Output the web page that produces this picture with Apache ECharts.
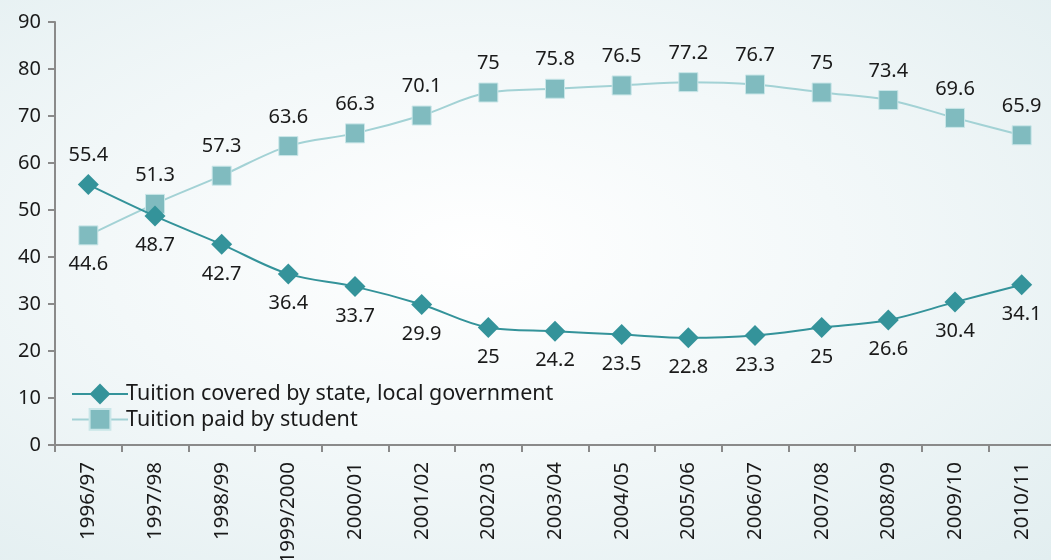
<!DOCTYPE html>
<html><head><meta charset="utf-8">
<script src="https://cdn.jsdelivr.net/npm/echarts@6/dist/echarts.min.js"></script>
<style>html,body{margin:0;padding:0;}#c{width:1051px;height:560px;background:radial-gradient(ellipse at 45% 45%, #ffffff 0%, #f3f8f9 45%, #e2eef0 100%);}</style>
</head><body><div id="c"></div>
<script>
const categories = ['1996/97','1997/98','1998/99','1999/2000','2000/01','2001/02','2002/03','2003/04','2004/05','2005/06','2006/07','2007/08','2008/09','2009/10','2010/11'];
const stateValues = [55.4,48.7,42.7,36.4,33.7,29.9,25,24.2,23.5,22.8,23.3,25,26.6,30.4,34.1];
const studentValues = [44.6,51.3,57.3,63.6,66.3,70.1,75,75.8,76.5,77.2,76.7,75,73.4,69.6,65.9];
const yTicks = [0,10,20,30,40,50,60,70,80,90];

const font = 'Noto Sans';
const chart = echarts.init(document.getElementById('c'));
chart.setOption({
  animation:false,
  textStyle:{fontFamily:font},
  grid:{left:55,top:22,width:1000,height:423,containLabel:false,outerBoundsMode:'none'},
  legend:{
    orient:'vertical', left:66, top:378, itemWidth:56, itemHeight:26, itemGap:3,
    textStyle:{fontSize:21.5,color:'#1a1a1a',fontFamily:font,padding:[0,0,0,-7]},
    data:['Tuition covered by state, local government','Tuition paid by student']
  },
  xAxis:{
    type:'category', data:categories, boundaryGap:true,
    axisLine:{lineStyle:{color:'#8a8a8a',width:2}},
    axisTick:{show:true,length:7,lineStyle:{color:'#8a8a8a',width:2}},
    axisLabel:{rotate:90,fontSize:20.5,color:'#1a1a1a',margin:17,fontFamily:font,interval:0}
  },
  yAxis:{
    type:'value', min:yTicks[0], max:yTicks[yTicks.length-1], interval:10,
    splitLine:{show:false},
    axisLine:{show:true,lineStyle:{color:'#8a8a8a',width:2}},
    axisTick:{show:true,length:7,lineStyle:{color:'#8a8a8a',width:2}},
    axisLabel:{fontSize:20,color:'#1a1a1a',margin:14,fontFamily:font}
  },
  series:[
    {
      name:'Tuition covered by state, local government', type:'line', smooth:0.35,
      data:stateValues.map((v,i)=>({value:v,label:{position:i===0?'top':'bottom'}})),
      symbol:'diamond', symbolSize:[21,21],
      lineStyle:{color:'#34939a',width:2},
      itemStyle:{color:'#34939a'},
      label:{show:true,fontSize:20,color:'#1a1a1a',distance:9,fontFamily:font},
      z:3
    },
    {
      name:'Tuition paid by student', type:'line', smooth:0.35,
      data:studentValues.map((v,i)=>({value:v,label:{position:i===0?'bottom':'top'}})),
      symbol:'rect', symbolSize:[19,19],
      lineStyle:{color:'#a3d2d5',width:2},
      itemStyle:{color:'#80bbbf',borderColor:'#c9e6e8',borderWidth:1},
      label:{show:true,fontSize:20,color:'#1a1a1a',distance:9,fontFamily:font},
      z:2
    }
  ]
});
</script></body></html>
